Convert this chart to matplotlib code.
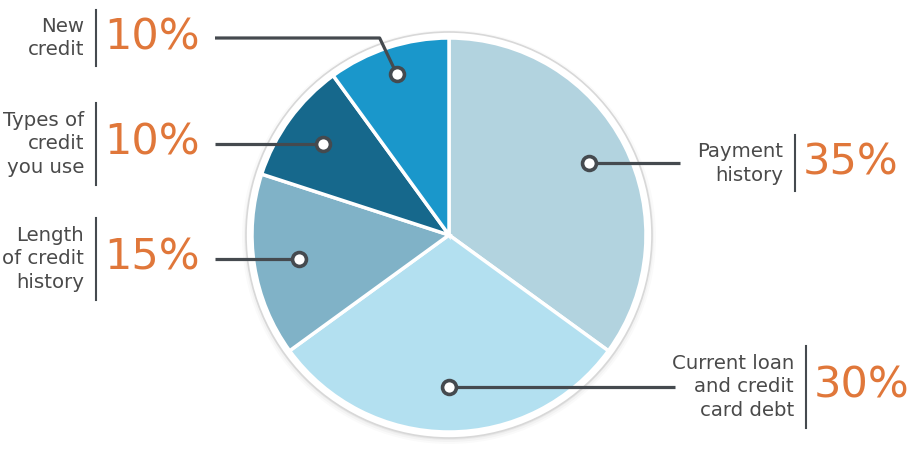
import numpy as np
import matplotlib
matplotlib.use('Agg')
import matplotlib.pyplot as plt
from matplotlib.patches import Circle

# Credit score factors, clockwise from 12 o'clock
labels = ['Payment\nhistory', 'Current loan\nand credit\ncard debt',
          'Length\nof credit\nhistory', 'Types of\ncredit\nyou use', 'New\ncredit']
shares = [35, 30, 15, 10, 10]
colors = ['#b2d3df', '#b3e0f0', '#80b2c7', '#16688c', '#1a97cb']

ORANGE = '#e0773a'
DARK = '#454a4f'
TEXT = '#4a4a4a'

W, H = 914, 472
fig = plt.figure(figsize=(W / 100, H / 100), dpi=100)
ax = fig.add_axes([0, 0, 1, 1])

def py(y):
    # pixel row -> data y
    return H - y

cx, cy, r = 449, py(235), 197

# soft shadow ring + white border
for i, a in enumerate([0.05, 0.07, 0.1]):
    ax.add_patch(Circle((cx, cy - 2), r + 10 - i * 2, facecolor='#000000', alpha=a * 0.4,
                        edgecolor='none', zorder=0))
ax.add_patch(Circle((cx, cy), r + 6, facecolor='white', edgecolor='#d8d8d8', lw=1.2, zorder=1))

wedges, _ = ax.pie(shares, colors=colors, startangle=90, counterclock=False,
                   center=(cx, cy), radius=r, frame=True,
                   wedgeprops=dict(edgecolor='white', linewidth=2.5))
for w in wedges:
    w.set_zorder(2)
ax.set_xlim(0, W)
ax.set_ylim(0, H)
ax.set_aspect('equal')
ax.axis('off')

# mid angles of wedges
cum = np.cumsum([0] + shares[:-1])
mids = [90 - (c + s / 2) / 100 * 360 for c, s in zip(cum, shares)]
dot_r = [0.80, 0.77, 0.77, 0.79, 0.86]
dots = [(cx + f * r * np.cos(np.radians(m)), cy + f * r * np.sin(np.radians(m)))
        for m, f in zip(mids, dot_r)]

# label layout: line end x, bar x, half bar height; elbow_y only for the bent leader
layout = [
    dict(end=680, bar=795, bar_half=28),
    dict(end=675, bar=806, bar_half=41),
    dict(end=215, bar=96, bar_half=41),
    dict(end=215, bar=96, bar_half=41),
    dict(end=215, bar=96, bar_half=28, elbow_y=38),
]

for (dx, dy), lab, s, L in zip(dots, labels, shares, layout):
    if 'elbow_y' in L:
        ly = py(L['elbow_y'])
        ax.plot([L['end'], dx - 17, dx], [ly, ly, dy], color=DARK, lw=2.3,
                solid_capstyle='butt', zorder=3)
    else:
        ly = dy
        ax.plot([L['end'], dx], [ly, ly], color=DARK, lw=2.3,
                solid_capstyle='butt', zorder=3)
    ax.plot(dx, dy, 'o', ms=10, mfc='white', mec=DARK, mew=2.6, zorder=4)

    b = L['bar']
    ax.plot([b, b], [ly - L['bar_half'], ly + L['bar_half']], color=DARK, lw=1.5)
    ax.text(b - 12, ly, lab, ha='right', va='center', fontsize=14.2, color=TEXT,
            linespacing=1.3, multialignment='right')
    ax.text(b + 8, ly + 1, f'{s}%', ha='left', va='center', fontsize=31,
            color=ORANGE)

fig.savefig('out.png', dpi=100)
